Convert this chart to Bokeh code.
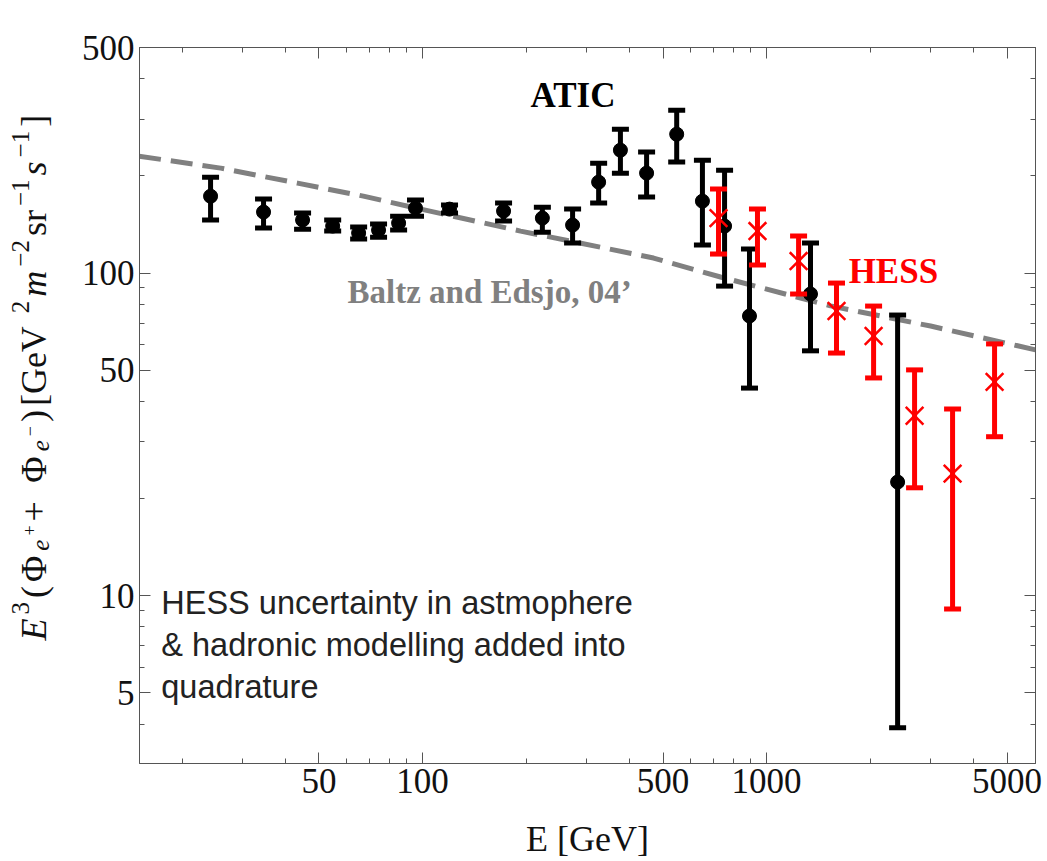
import math

from bokeh.embed import file_html
from bokeh.layouts import row
from bokeh.models import FixedTicker, Label, LogAxis, NumeralTickFormatter, Range1d
from bokeh.plotting import figure
from bokeh.resources import INLINE

# ATIC electron + positron spectrum, E^3 * flux  [GeV^2 m^-2 sr^-1 s^-1]
atic_energy = [24.2, 34.5, 44.8, 54.8, 65.2, 74.5, 85.2, 95.4, 119.8, 172, 223, 273,
               325, 376, 448, 548, 651, 755, 892, 1342, 2404]
atic_flux = [173, 154.5, 146, 139.8, 133, 135.9, 142.8, 158.9, 157.8, 155.6, 148, 140.8,
             191.3, 240.3, 204, 269.3, 167, 139.8, 73.6, 86.1, 22.5]
atic_upper = [198, 169.5, 153.4, 146, 138.8, 141.8, 150, 168.3, 162.4, 164.7, 160, 157.8,
              219, 279, 237, 319.7, 223.8, 208.4, 118.7, 123.8, 74.1]
atic_lower = [146, 137.8, 136.8, 134.9, 127.4, 129.2, 135.9, 150, 153.4, 144.9, 133.9, 123.9,
              164.7, 204, 172, 220.7, 122.1, 91.1, 44.0, 57.4, 3.9]

# HESS spectrum (atmosphere and hadronic-model uncertainty added in quadrature)
hess_energy = [725, 941, 1239, 1597, 2047, 2693, 3473, 4600]
hess_flux = [148, 134.9, 108.9, 76.3, 63.8, 36.1, 23.9, 46.0]
hess_upper = [182, 157.8, 130.2, 93.1, 79.0, 50.1, 37.9, 60.3]
hess_lower = [114.5, 105.9, 86.1, 56.5, 47.3, 21.6, 9.1, 31.1]

# Background model curve (Baltz & Edsjo 2004)
model_energy = [15.0, 25.9, 43.3, 67.3, 98.7, 192.7, 269.3, 469.4, 735, 1535, 2998, 6053]
model_flux = [230.2, 211.4, 190, 173.1, 157.8, 134.9, 125.6, 111.3, 97.2, 79.1, 68.5, 57.8]

# Axis ticks
x_major = [50, 100, 500, 1000, 5000]
x_minor = [20, 30, 40, 60, 70, 80, 90, 200, 300, 400, 600, 700, 800, 900, 2000, 3000, 4000]
y_major = [5, 10, 50, 100, 500]
y_minor = [4, 6, 7, 8, 9, 20, 30, 40, 60, 70, 80, 90, 200, 300, 400]

x_title = "E [GeV]"
note_lines = ["HESS uncertainty in astmophere", "& hadronic modelling added into", "quadrature"]

SERIF = "Liberation Serif"
SANS = "Liberation Sans"
FRAME = "#555555"
TEXT = "#111111"

W, H = 1047, 861
TITLE_W = 75                     # strip on the left holding the vertical title
FRAME_TOP, FRAME_BOTTOM = 47, 763  # px from the top of the canvas

p = figure(width=W - TITLE_W, height=H, x_axis_type="log", y_axis_type="log",
           x_range=Range1d(15.04, 6050), y_range=Range1d(3.02, 500),
           output_backend="svg", toolbar_location=None,
           min_border_left=139 - TITLE_W, min_border_right=12,
           min_border_top=FRAME_TOP, min_border_bottom=H - FRAME_BOTTOM)
p.xgrid.visible = False
p.ygrid.visible = False
p.outline_line_color = FRAME
p.outline_line_width = 1
p.background_fill_color = "white"
p.border_fill_color = "white"


def style_axis(ax, major, minor, labels=True):
    ax.ticker = FixedTicker(ticks=major, minor_ticks=minor)
    ax.formatter = NumeralTickFormatter(format="0")
    ax.axis_line_color = FRAME
    ax.major_tick_line_color = FRAME
    ax.minor_tick_line_color = FRAME
    ax.major_tick_in = 11
    ax.major_tick_out = 0
    ax.minor_tick_in = 5
    ax.minor_tick_out = 0
    ax.major_label_text_font = SERIF
    ax.major_label_text_font_size = "35px"
    if labels:
        ax.major_label_text_color = TEXT
        ax.major_label_standoff = 5
    else:
        # mirrored frame ticks only
        ax.major_label_text_color = None
        ax.major_label_standoff = 0


style_axis(p.xaxis[0], x_major, x_minor)
style_axis(p.yaxis[0], y_major, y_minor)

xa = p.xaxis[0]
xa.axis_label = x_title
xa.axis_label_text_font = SERIF
xa.axis_label_text_font_size = "36px"
xa.axis_label_text_font_style = "normal"
xa.axis_label_text_color = TEXT
xa.axis_label_standoff = 23

top_axis = LogAxis()
style_axis(top_axis, x_major, x_minor, labels=False)
p.add_layout(top_axis, "above")
right_axis = LogAxis()
style_axis(right_axis, y_major, y_minor, labels=False)
p.add_layout(right_axis, "right")

# Model curve
p.line(model_energy, model_flux, line_color="#808080", line_width=5, line_dash="22 10")

# ATIC: black error bars with filled circles
p.segment(x0=atic_energy, y0=atic_lower, x1=atic_energy, y1=atic_upper,
          line_color="black", line_width=5)
p.scatter(atic_energy, atic_upper, marker="dash", size=17, line_width=5, line_color="black")
p.scatter(atic_energy, atic_lower, marker="dash", size=17, line_width=5, line_color="black")
p.scatter(atic_energy, atic_flux, marker="circle", size=14, fill_color="black", line_color="black")

# HESS: red error bars with crosses
p.segment(x0=hess_energy, y0=hess_lower, x1=hess_energy, y1=hess_upper,
          line_color="red", line_width=5)
p.scatter(hess_energy, hess_upper, marker="dash", size=17, line_width=5, line_color="red")
p.scatter(hess_energy, hess_lower, marker="dash", size=17, line_width=5, line_color="red")
p.scatter(hess_energy, hess_flux, marker="x", size=25, line_width=2.5, line_color="red")

# Text annotations inside the frame
p.add_layout(Label(x=206, y=308, text="ATIC", text_font=SERIF, text_font_size="35px",
                   text_font_style="bold", text_color="black"))
p.add_layout(Label(x=60.5, y=76.9, text="Baltz and Edsjo, 04’", text_font=SERIF,
                   text_font_size="33px", text_font_style="bold", text_color="#808080"))
p.add_layout(Label(x=1732, y=88.0, text="HESS", text_font=SERIF, text_font_size="35px",
                   text_font_style="bold", text_color="red"))
for line, yb in zip(note_lines, [8.36, 6.20, 4.59]):
    p.add_layout(Label(x=17.4, y=yb, text=line, text_font=SANS, text_font_size="32.5px",
                       text_color="#222222"))

# Vertical axis title. The strip's frame lines up with the main frame in the row,
# so its y range is given in canvas pixels (counted from the bottom) over that span.
left = figure(width=TITLE_W, height=H, x_range=Range1d(0, TITLE_W),
              y_range=Range1d(H - FRAME_BOTTOM, H - FRAME_TOP),
              output_backend="svg", toolbar_location=None,
              x_axis_location=None, y_axis_location=None,
              min_border_left=0, min_border_right=0,
              min_border_top=FRAME_TOP, min_border_bottom=H - FRAME_BOTTOM)
left.xgrid.visible = False
left.ygrid.visible = False
left.outline_line_color = None
left.background_fill_color = "white"
left.border_fill_color = "white"

F, f, ff = 36, 25, 18
y_title = [
    # text, size, style, shift towards the superscript side (px), advance (em of size)
    ("E", F, "italic", 0, 0.611),
    ("3", f, "normal", 13, 0.5),
    ("(", F, "normal", 0, 0.333),
    ("Φ", F, "normal", 0, 0.76),
    ("e", f, "italic", -7, 0.444),
    ("+", ff, "normal", 4, 0.564),
    ("+", F, "normal", 0, 0.964),
    ("Φ", F, "normal", 0, 0.76),
    ("e", f, "italic", -7, 0.444),
    ("−", ff, "normal", 4, 0.564),
    (")", F, "normal", 0, 0.333),
    (" [GeV", F, "normal", 0, 2.471),
    ("2", f, "normal", 13, 0.5),
    ("m", F, "italic", 0, 0.722),
    ("−2", f, "normal", 13, 1.064),
    ("sr", F, "normal", 0, 0.722),
    ("−1", f, "normal", 13, 1.064),
    ("s", F, "italic", 0, 0.389),
    ("−1", f, "normal", 13, 1.064),
    ("]", F, "normal", 0, 0.333),
]
baseline_x = 33            # px from the strip's left edge
pos = H - 640              # px from the bottom edge where the title starts
gap = 4.0
for txt, size, style, shift, adv in y_title:
    left.add_layout(Label(x=baseline_x - shift, y=pos, angle=math.pi / 2, text=txt,
                          text_font=SERIF, text_font_size=f"{size}px", text_font_style=style,
                          text_color=TEXT, text_align="left", text_baseline="alphabetic"))
    pos += adv * size + gap

layout = row(left, p, spacing=0)
open("out.html", "w").write(file_html(layout, INLINE))
